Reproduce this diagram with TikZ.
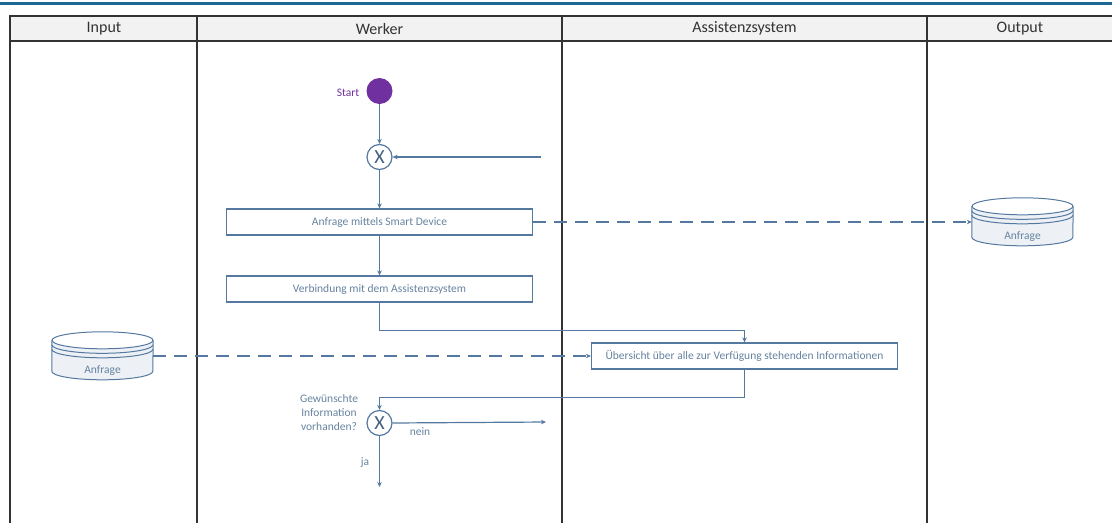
\documentclass[tikz,border=0pt]{standalone}
\usepackage{fontspec}
\setmainfont{Carlito}
\usetikzlibrary{arrows.meta,calc}

\definecolor{flow}{HTML}{5478A0}
\definecolor{flowtext}{HTML}{6683A0}
\definecolor{toprule}{HTML}{1D6796}
\definecolor{startpurple}{HTML}{7030A0}
\definecolor{headfill}{HTML}{F2F2F2}
\definecolor{gridline}{HTML}{333333}
\definecolor{diskfill}{HTML}{EDF1F6}

\tikzset{
  gridpen/.style={draw=gridline, line width=1.4pt},
  headtxt/.style={font=\fontsize{16}{18}\selectfont, text=black!80, inner sep=0pt},
  task/.style={draw=flow, line width=1.2pt, fill=white, minimum width=306pt,
    minimum height=26pt, inner sep=0pt, text=flowtext, font=\fontsize{11.5}{13}\selectfont},
  gate/.style={circle, draw=flow, line width=1.2pt, fill=white, minimum size=25pt,
    inner sep=0pt, text=flow!80!black, font=\fontsize{20}{20}\selectfont},
  startdot/.style={circle, fill=startpurple, minimum size=26pt, inner sep=0pt},
  lbl/.style={text=flowtext, inner sep=0pt, font=\fontsize{11.5}{14}\selectfont},
  flowarrow/.style={draw=flow, line width=1.2pt, -{Stealth[length=5pt,width=4.5pt]}},
  dasharrow/.style={draw=flow, line width=1.2pt, dash pattern=on 13pt off 8pt,
    -{Stealth[length=5pt,width=4.5pt]}},
  diskbox/.style={minimum width=101pt, minimum height=48pt, inner sep=0pt},
  diskpen/.style={draw=flow, line width=1pt},
}

% stacked-disk data store drawn around an empty node
\newcommand\datastore[1]{%
  \coordinate (#1-tl) at ($(#1.north west)+(0,8.5)$);
  \coordinate (#1-tr) at ($(#1.north east)+(0,8.5)$);
  \fill[diskfill] (#1-tl) -- ($(#1-tl)+(0,31)$)
    arc[start angle=180,end angle=0,x radius=50.5,y radius=8.5]
    -- (#1-tr) -- cycle;
  \draw[diskpen] (#1-tl) -- ($(#1-tl)+(0,31)$)
    arc[start angle=180,end angle=0,x radius=50.5,y radius=8.5] -- (#1-tr);
  \draw[diskpen, fill=white] ($(#1-tl)!0.5!(#1-tr)$) ellipse[x radius=50.5,y radius=8.5];
  \draw[diskpen] ($(#1-tl)+(0,4.5)$) arc[start angle=180,end angle=0,x radius=50.5,y radius=8.5];
  \draw[diskpen] ($(#1-tl)+(0,9)$) arc[start angle=180,end angle=0,x radius=50.5,y radius=8.5];
}

\begin{document}
\begin{tikzpicture}[x=1pt,y=-1pt]
\useasboundingbox (0,0) rectangle (1112,523);

% page rule
\fill[toprule] (0,1.5) rectangle (1112,4.5);

% swimlane table
\fill[headfill] (10,16) rectangle (1112,41);
\draw[gridpen] (1112,16) -- (10,16) -- (10,523);
\draw[gridpen] (10,41) -- (1112,41);
\foreach \x in {197,562,927} \draw[gridpen] (\x,16) -- (\x,523);

\node[headtxt] (hInput)  at (104,28.5)   {Input};
\node[headtxt] (hWerker) at (379.5,28.5) {Werker};
\node[headtxt] (hAssist) at (744.5,28.5) {Assistenzsystem};
\node[headtxt] (hOutput) at (1020,28.5)  {Output};

% data stores
\node[diskbox] (dbOut) at (1022.5,222) {};
\datastore{dbOut}
\node[lbl] (dbOutLbl) at (1022.5,237) {Anfrage};

\node[diskbox] (dbIn) at (102.5,356) {};
\datastore{dbIn}
\node[lbl] (dbInLbl) at (102.5,371) {Anfrage};

% process
\node[startdot] (start) at (379.5,91) {};
\node[lbl, text=startpurple] (startLbl) at (348,93) {Start};
\node[gate] (g1) at (379.5,157) {X};
\coordinate (loopIn) at (541,157);
\node[task] (t1) at (379.5,222) {Anfrage mittels Smart Device};
\node[task] (t2) at (379.5,289) {Verbindung mit dem Assistenzsystem};
\node[task] (t3) at (744.5,356) {Übersicht über alle zur Verfügung stehenden Informationen};
\node[gate] (g2) at (379.5,423) {X};
\node[lbl, align=center] (g2Lbl) at (329,413) {Gewünschte\\Information\\vorhanden?};
\coordinate (neinEnd) at (546,422);
\coordinate (jaEnd) at (379.5,487);
\node[lbl] (neinLbl) at (420,432) {nein};
\node[lbl] (jaLbl) at (365,463) {ja};

% connectors
\draw[flowarrow] (start) -- (g1);
\draw[flowarrow] (loopIn) -- (g1);
\draw[flowarrow] (g1) -- (t1);
\draw[flowarrow] (t1) -- (t2);
\draw[flowarrow] (t2.south) -- ++(0,28) -| (t3.north);
\draw[flowarrow] (t3.south) -- ++(0,28) -| (g2.north);
\draw[flowarrow] (g2.east) -- (neinEnd);
\draw[flowarrow] (g2) -- (jaEnd);
\draw[dasharrow] (t1) -- (dbOut);
\draw[dasharrow] (dbIn) -- (t3);
\end{tikzpicture}
\end{document}
